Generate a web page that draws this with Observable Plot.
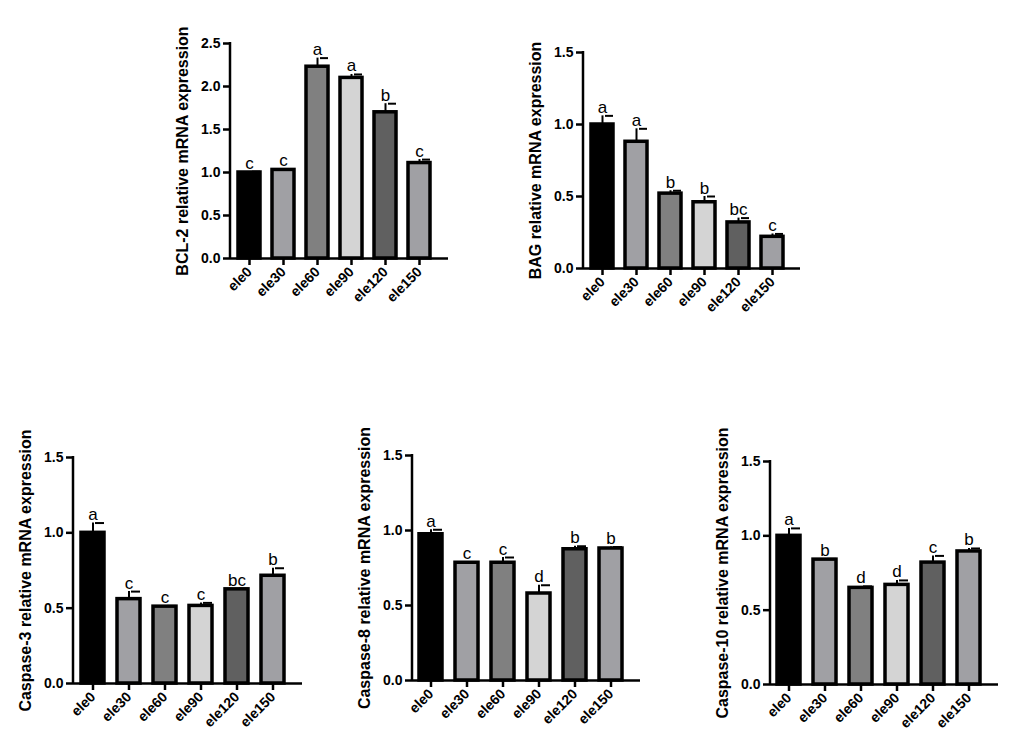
<!DOCTYPE html><html><head><meta charset="utf-8">
<script src="https://cdn.jsdelivr.net/npm/d3@7"></script>
<script src="https://cdn.jsdelivr.net/npm/@observablehq/plot@0.6"></script>
<style>body{margin:0;background:#fff;font-family:Arial,"Liberation Sans",sans-serif}#c{position:relative;width:1010px;height:752px}#c>div{position:absolute}</style>
</head><body><div id="c"></div>
<script>
const groups=["ele0","ele30","ele60","ele90","ele120","ele150"];
const colors=["#000000","#a0a0a4","#808080","#d4d4d4","#606060","#a0a0a4"];
const bcl2=[1.0,1.03,2.23,2.1,1.7,1.11], bcl2Err=[0.01,0.01,0.1,0.04,0.1,0.04], bcl2Let=["c","c","a","a","b","c"];
const bag=[1.0,0.88,0.52,0.46,0.32,0.22], bagErr=[0.06,0.09,0.02,0.04,0.03,0.02], bagLet=["a","a","b","b","bc","c"];
const c3=[1.0,0.56,0.51,0.515,0.625,0.715], c3Err=[0.065,0.05,0.005,0.02,0.005,0.05], c3Let=["a","c","c","c","bc","b"];
const c8=[0.975,0.785,0.785,0.58,0.875,0.88], c8Err=[0.03,0.005,0.035,0.055,0.02,0.01], c8Let=["a","c","c","d","b","b"];
const c10=[1.0,0.84,0.65,0.67,0.82,0.895], c10Err=[0.05,0.005,0.01,0.03,0.045,0.02], c10Let=["a","b","d","d","c","b"];
const yTicks25=[0,0.5,1.0,1.5,2.0,2.5], yTicks15=[0,0.5,1.0,1.5];
const panels=[
 {v:bcl2,e:bcl2Err,l:bcl2Let,label:"BCL-2 relative mRNA expression",max:2.5,ticks:yTicks25,ax:230,y0:258,ytop:43,w:218},
 {v:bag,e:bagErr,l:bagLet,label:"BAG relative mRNA expression",max:1.5,ticks:yTicks15,ax:583,y0:268,ytop:52,w:217},
 {v:c3,e:c3Err,l:c3Let,label:"Caspase-3 relative mRNA expression",max:1.5,ticks:yTicks15,ax:73,y0:683,ytop:457,w:229},
 {v:c8,e:c8Err,l:c8Let,label:"Caspase-8 relative mRNA expression",max:1.5,ticks:yTicks15,ax:412,y0:680,ytop:455,w:228},
 {v:c10,e:c10Err,l:c10Let,label:"Caspase-10 relative mRNA expression",max:1.5,ticks:yTicks15,ax:770,y0:684,ytop:461,w:228}];
const ML=65,MT=20,MB=75,MR=8;
for(const p of panels){
 const data=groups.map((g,i)=>({g,v:p.v[i],top:p.v[i]+p.e[i],l:p.l[i],c:colors[i]}));
 const h=p.y0-p.ytop;
 const plot=Plot.plot({width:ML+p.w+MR,height:MT+h+MB,marginLeft:ML,marginTop:MT,marginBottom:MB,marginRight:MR,
  style:{fontFamily:"Arial, 'Liberation Sans', sans-serif",fontSize:"13px",color:"#000",overflow:"visible"},
  x:{domain:groups,paddingInner:0.36,paddingOuter:0.32,align:0.3},
  y:{domain:[0,p.max]},
  marks:[
   Plot.ruleX(data,{x:"g",y1:"v",y2:"top",stroke:"#000",strokeWidth:2}),
   Plot.tickY(data,{x:"g",y:"top",stroke:"#000",strokeWidth:2,inset:7,insetLeft:14,insetRight:0}),
   Plot.barY(data,{x:"g",y:"v",fill:"c",stroke:"#000",strokeWidth:3.5}),
   Plot.text(data,{x:"g",y:"top",text:"l",dy:-3,lineAnchor:"bottom",fontSize:17}),
   Plot.ruleY([0],{stroke:"#000",strokeWidth:2.5,dx:0}),
   Plot.axisY({ticks:p.ticks,tickFormat:d3.format(".1f"),tickSize:7,tickPadding:3,fontWeight:"bold",fontSize:14,
     label:p.label,labelAnchor:"center",labelArrow:"none",labelOffset:54}),
   Plot.axisX({tickSize:7,tickRotate:-45,fontWeight:"bold",fontSize:14,label:null,tickPadding:4})
  ]});
 d3.select(plot).selectAll("g[aria-label='y-axis label'] text").style("font-weight","bold").style("font-size","16px");
 d3.select(plot).selectAll("g[aria-label='y-axis tick'],g[aria-label='x-axis tick']").attr("stroke-width",2.5);
 d3.select(plot).append("line").attr("x1",ML).attr("x2",ML).attr("y1",MT-1).attr("y2",MT+h+1).attr("stroke","#000").attr("stroke-width",2.5);
 const d=document.createElement("div");
 d.style.left=(p.ax-ML)+"px"; d.style.top=(p.ytop-MT)+"px";
 d.appendChild(plot); document.getElementById("c").appendChild(d);
}
</script></body></html>
